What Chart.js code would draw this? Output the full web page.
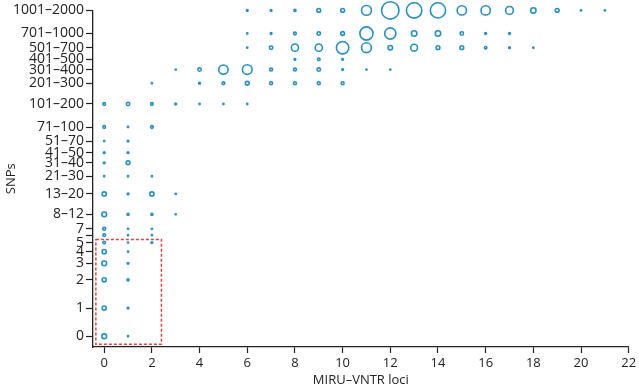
<!DOCTYPE html>
<html>
<head>
<meta charset="utf-8">
<script src="https://cdn.jsdelivr.net/npm/chart.js@4"></script>
<style>
  body { margin: 0; background: #fff; }
  canvas { display: block; }
</style>
</head>
<body>
<canvas id="chart-snp-miru" width="639" height="387"></canvas>
<script>
// SNP distance categories, placed on a log axis at their middle value (0 sits at 0.5)
var snpLabels = ['0', '1', '2', '3', '4', '5', '', '7', '8–12', '13–20', '21–30', '31–40', '41–50',
  '51–70', '71–100', '101–200', '201–300', '301–400', '401–500', '501–700', '701–1000', '1001–2000'];
var snpValues = [0.5, 1, 2, 3, 4, 5, 6, 7, 10, 16.5, 25.5, 35.5, 45.5,
  60.5, 85.5, 150.5, 250.5, 350.5, 450.5, 600.5, 850.5, 1500.5];

// MIRU-VNTR loci difference, 0..21
var lociTicks = [0, 2, 4, 6, 8, 10, 12, 14, 16, 18, 20, 22];

// number of pairs per cell, one row per SNP category, index = loci difference
var pairCounts = [
  [16, 1],
  [12, 2],
  [12, 3],
  [16, 2],
  [12, 1],
  [5, 1, 2],
  [5, 1, 1],
  [6, 1, 1],
  [16, 3, 3, 1],
  [12, 2, 12, 1],
  [1, 1, 1],
  [2, 10],
  [2, 2],
  [1, 2],
  [5, 1, 5],
  [5, 8, 5, 2, 1, 1, 1],
  [0, 0, 1, 0, 2, 5, 10, 6, 6, 6, 6],
  [0, 0, 0, 1, 8, 60, 65, 6, 6, 8, 2, 1, 1],
  [0, 0, 0, 0, 0, 0, 0, 0, 2, 5, 2],
  [0, 0, 0, 0, 0, 0, 1, 8, 36, 36, 107, 67, 14, 32, 10, 10, 4, 2, 1],
  [0, 0, 0, 0, 0, 0, 1, 2, 5, 8, 10, 121, 87, 20, 20, 8, 2, 2],
  [0, 0, 0, 0, 0, 0, 2, 2, 3, 10, 10, 67, 210, 165, 160, 60, 60, 42, 20, 10, 1, 1]
];

// dashed box around the low-distance region
var boxLoci = [-0.35, 2.4];
var boxSnp = [0.41, 5.4];

var points = [];
pairCounts.forEach(function (row, i) {
  row.forEach(function (n, x) {
    if (n > 0) points.push({ x: x, y: snpValues[i], r: 0.6 * Math.sqrt(n) });
  });
});

var boxPlugin = {
  id: 'dashedBox',
  afterDatasetsDraw: function (chart) {
    var sx = chart.scales.x, sy = chart.scales.y, ctx = chart.ctx;
    var x1 = sx.getPixelForValue(boxLoci[0]), x2 = sx.getPixelForValue(boxLoci[1]);
    var y1 = sy.getPixelForValue(boxSnp[1]), y2 = sy.getPixelForValue(boxSnp[0]);
    ctx.save();
    ctx.strokeStyle = '#e0413c';
    ctx.lineWidth = 1.5;
    ctx.setLineDash([3, 2]);
    ctx.strokeRect(x1, y1, x2 - x1, y2 - y1);
    ctx.restore();
  }
};

Chart.defaults.font.family = "'Open Sans', 'Noto Sans', sans-serif";
Chart.defaults.font.size = 13;
Chart.defaults.color = '#222';

var myChart = new Chart(document.getElementById('chart-snp-miru'), {
  type: 'bubble',
  data: {
    datasets: [{
      data: points,
      borderColor: '#2590c0',
      backgroundColor: 'rgba(0,0,0,0)',
      borderWidth: 1.6,
      hoverRadius: 0,
      clip: false
    }]
  },
  plugins: [boxPlugin],
  options: {
    responsive: false,
    animation: false,
    devicePixelRatio: 1,
    layout: { padding: { top: 9, right: 6, left: 0, bottom: 0 } },
    plugins: {
      legend: { display: false },
      tooltip: { enabled: false }
    },
    scales: {
      x: {
        type: 'linear',
        min: -0.47,
        max: 22,
        afterBuildTicks: function (s) { s.ticks = lociTicks.map(function (v) { return { value: v }; }); },
        afterFit: function (s) { s.height = 40; },
        grid: { drawOnChartArea: false, drawTicks: true, tickLength: 6, tickColor: '#222', tickWidth: 1.2 },
        border: { color: '#222', width: 1.3 },
        ticks: { padding: 2, autoSkip: false, maxRotation: 0 },
        title: { display: true, text: 'MIRU–VNTR loci', font: { size: 13, lineHeight: 1 }, padding: { top: 0, bottom: 0 } }
      },
      y: {
        type: 'logarithmic',
        min: 0.384,
        max: 1500.5,
        afterBuildTicks: function (s) { s.ticks = snpValues.map(function (v) { return { value: v }; }); },
        afterFit: function (s) { s.width = 93; },
        grid: { drawOnChartArea: false, drawTicks: true, tickLength: 7, tickColor: '#222', tickWidth: 1.2 },
        border: { color: '#222', width: 1.3 },
        ticks: {
          padding: 2,
          autoSkip: false,
          font: { size: 14 },
          callback: function (v, i) { return snpLabels[i]; }
        },
        title: { display: true, text: 'SNPs', font: { size: 13, lineHeight: 1 }, padding: { top: 5, bottom: 0 } }
      }
    }
  }
});
</script>
</body>
</html>
